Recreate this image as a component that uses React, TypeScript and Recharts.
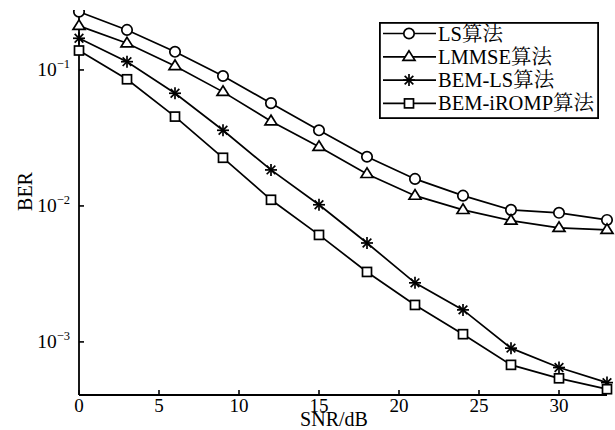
import React from "react";
import { LineChart, Line, XAxis, YAxis } from "recharts";

const snr = [0, 3, 6, 9, 12, 15, 18, 21, 24, 27, 30, 33];
const lsBer = [0.268, 0.197, 0.136, 0.0903, 0.057, 0.036, 0.023, 0.0158, 0.0119, 0.00935, 0.0089, 0.00789];
const lmmseBer = [0.211, 0.157, 0.107, 0.069, 0.042, 0.0272, 0.0172, 0.0119, 0.00935, 0.0078, 0.0069, 0.00667];
const bemLsBer = [0.171, 0.115, 0.0674, 0.036, 0.0184, 0.0102, 0.00534, 0.00272, 0.00172, 0.0009, 0.000648, 0.000502];
const bemIrompBer = [0.139, 0.0854, 0.0454, 0.0226, 0.0111, 0.00612, 0.00327, 0.00187, 0.00114, 0.000678, 0.00054, 0.000449];

const xTicks = [0, 5, 10, 15, 20, 25, 30];
const yTicks = [0.001, 0.01, 0.1];
const yExponents = ["−3", "−2", "−1"];

const seriesNames = ["LS算法", "LMMSE算法", "BEM-LS算法", "BEM-iROMP算法"];
const seriesKeys = ["ls", "lmmse", "bemls", "bemiromp"];
const seriesShapes = ["circle", "triangle", "star", "square"];

const data = snr.map((s, i) => ({
  snr: s,
  ls: lsBer[i],
  lmmse: lmmseBer[i],
  bemls: bemLsBer[i],
  bemiromp: bemIrompBer[i],
}));

const FONT = "'Liberation Serif', 'Times New Roman', 'Noto Serif CJK SC', 'Noto Sans CJK SC', serif";

function Marker({ shape, cx, cy }: { shape: string; cx: number; cy: number }) {
  if (cx == null || cy == null || isNaN(cx) || isNaN(cy)) return null;
  const common = { fill: "white", stroke: "black", strokeWidth: 1.7 };
  if (shape === "circle") return <circle cx={cx} cy={cy} r={5.2} {...common} />;
  if (shape === "triangle") {
    const r = 6;
    return (
      <polygon
        points={`${cx},${cy - r} ${cx - r},${cy + r * 0.6} ${cx + r},${cy + r * 0.6}`}
        {...common}
      />
    );
  }
  if (shape === "square") return <rect x={cx - 4.5} y={cy - 4.5} width={9} height={9} {...common} />;
  const r = 6;
  const d = r * 0.72;
  return (
    <g stroke="black" strokeWidth={1.7}>
      <line x1={cx} y1={cy - r} x2={cx} y2={cy + r} />
      <line x1={cx - r} y1={cy} x2={cx + r} y2={cy} />
      <line x1={cx - d} y1={cy - d} x2={cx + d} y2={cy + d} />
      <line x1={cx - d} y1={cy + d} x2={cx + d} y2={cy - d} />
    </g>
  );
}

const makeDot = (shape: string) => (props: any) => (
  <Marker key={`${shape}-${props.index}`} shape={shape} cx={props.cx} cy={props.cy} />
);

const YTick = (props: any) => {
  const { x, y, payload } = props;
  const idx = yTicks.indexOf(payload.value);
  return (
    <g>
      <line x1={x} y1={y} x2={x + 5} y2={y} stroke="black" strokeWidth={1.6} />
      <text x={x - 9} y={y + 6} textAnchor="end" fontFamily={FONT} fontSize={19.5} fill="black">
        10
        <tspan dy={-8} fontSize={12.5}>{yExponents[idx]}</tspan>
      </text>
    </g>
  );
};

const XTick = (props: any) => {
  const { x, y, payload } = props;
  return (
    <g>
      <line x1={x} y1={y} x2={x} y2={y - 5} stroke="black" strokeWidth={1.6} />
      <text x={x} y={y + 17} textAnchor="middle" fontFamily={FONT} fontSize={19} fill="black">
        {payload.value}
      </text>
    </g>
  );
};

const XLabel = (props: any) => {
  const vb = props.viewBox || {};
  return (
    <text
      x={vb.x + vb.width / 2 - 9}
      y={vb.y + 31}
      textAnchor="middle"
      fontFamily={FONT}
      fontSize={20}
      fill="black"
    >
      SNR/dB
    </text>
  );
};

const YLabel = (props: any) => {
  const vb = props.viewBox || {};
  const cx = vb.x - 4;
  const cy = vb.y + vb.height / 2 - 11;
  return (
    <text
      x={cx}
      y={cy}
      transform={`rotate(-90, ${cx}, ${cy})`}
      textAnchor="middle"
      dominantBaseline="central"
      fontFamily={FONT}
      fontSize={20}
      fill="black"
    >
      BER
    </text>
  );
};

const LegendBox = () => (
  <svg width={220} height={97} style={{ position: "absolute", left: 379, top: 22, display: "block" }}>
    <rect x={0.9} y={0.9} width={218.2} height={95.2} fill="white" stroke="black" strokeWidth={1.8} />
    {seriesNames.map((name, i) => {
      const y = 11.5 + i * 23.3;
      return (
        <g key={name}>
          <line x1={4} y1={y} x2={57} y2={y} stroke="black" strokeWidth={1.7} />
          <Marker shape={seriesShapes[i]} cx={30} cy={y} />
          <text x={59} y={y + 7} fontFamily={FONT} fontSize={20.5} fill="black">
            {name}
          </text>
        </g>
      );
    })}
  </svg>
);

export default function App() {
  return (
    <div style={{ position: "absolute", left: 0, top: 0, width: 615, height: 430, background: "white" }}>
      <LineChart
        width={615}
        height={430}
        data={data}
        margin={{ top: 10, right: 8, bottom: 0, left: 29 }}
      >
        <XAxis
          dataKey="snr"
          type="number"
          domain={[0, 33]}
          ticks={xTicks}
          tick={<XTick />}
          tickLine={false}
          tickSize={0}
          tickMargin={0}
          axisLine={{ stroke: "black", strokeWidth: 1.8 }}
          height={35}
          label={<XLabel />}
        />
        <XAxis
          xAxisId="top"
          dataKey="snr"
          type="number"
          domain={[0, 33]}
          orientation="top"
          tick={false}
          tickLine={false}
          height={0}
          axisLine={{ stroke: "black", strokeWidth: 1.8 }}
        />
        <YAxis
          scale="log"
          type="number"
          domain={[0.000407, 0.276]}
          allowDataOverflow
          ticks={yTicks}
          tick={<YTick />}
          tickLine={false}
          tickSize={0}
          tickMargin={0}
          width={50}
          axisLine={{ stroke: "black", strokeWidth: 1.8 }}
          label={<YLabel />}
        />
        <YAxis
          yAxisId="right"
          orientation="right"
          scale="log"
          type="number"
          domain={[0.000407, 0.276]}
          tick={false}
          tickLine={false}
          width={0}
          axisLine={{ stroke: "black", strokeWidth: 1.8 }}
        />
        {seriesKeys.map((k, i) => (
          <Line
            key={k}
            dataKey={k}
            name={seriesNames[i]}
            stroke="black"
            strokeWidth={1.7}
            dot={makeDot(seriesShapes[i])}
            isAnimationActive={false}
          />
        ))}
      </LineChart>
      <LegendBox />
    </div>
  );
}
